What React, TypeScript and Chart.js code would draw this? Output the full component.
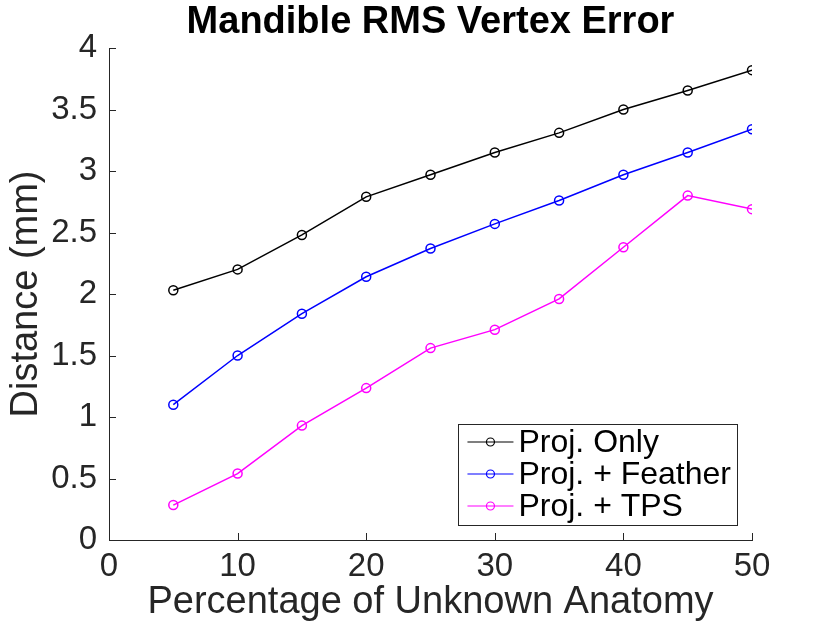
import React, { useRef, useEffect } from 'react';
import { Chart, registerables } from 'chart.js';

Chart.register(...registerables);

// values
const unknownPct = [5, 10, 15, 20, 25, 30, 35, 40, 45, 50];
const projOnly = [2.03, 2.2, 2.48, 2.79, 2.97, 3.15, 3.31, 3.5, 3.655, 3.82];
const projFeather = [1.1, 1.5, 1.84, 2.14, 2.37, 2.57, 2.76, 2.97, 3.15, 3.34];
const projTps = [0.284, 0.54, 0.93, 1.235, 1.56, 1.71, 1.96, 2.38, 2.8, 2.69];
const seriesNames = ['Proj. Only', 'Proj. + Feather', 'Proj. + TPS'];
const seriesColors = ['#000000', '#0000ff', '#ff00ff'];

const FONT = '"Liberation Sans", Arial, Helvetica, sans-serif';
const AXIS = '#262626';

const toPoints = (ys: number[]) => unknownPct.map((x, i) => ({ x, y: ys[i] }));

// MATLAB-like inward tick marks
const inwardTicks = {
  id: 'inwardTicks',
  afterDraw(chart: any) {
    const { ctx, chartArea, scales } = chart;
    const len = 7;
    ctx.save();
    ctx.strokeStyle = AXIS;
    ctx.lineWidth = 1;
    ctx.beginPath();
    scales.x.ticks.forEach((t: any) => {
      const px = Math.round(scales.x.getPixelForValue(t.value)) + 0.5;
      ctx.moveTo(px, chartArea.bottom);
      ctx.lineTo(px, chartArea.bottom - len);
    });
    scales.y.ticks.forEach((t: any) => {
      const py = Math.round(scales.y.getPixelForValue(t.value)) + 0.5;
      ctx.moveTo(chartArea.left, py);
      ctx.lineTo(chartArea.left + len, py);
    });
    ctx.stroke();
    ctx.restore();
  },
};

// boxed legend inside the lower-right corner of the axes
const boxLegend = {
  id: 'boxLegend',
  afterDraw(chart: any) {
    const { ctx, chartArea } = chart;
    const sets = chart.data.datasets;
    ctx.save();
    ctx.font = `32px ${FONT}`;
    const textW = Math.max(...sets.map((d: any) => ctx.measureText(d.label).width));
    const rowH = 32;
    const lineLen = 46;
    const padL = 9;
    const gap = 5;
    const w = padL + lineLen + gap + textW + 6;
    const h = rowH * sets.length + 5;
    const right = chartArea.right - 15;
    const bottom = chartArea.bottom - 15;
    const left = right - w;
    const top = bottom - h;
    ctx.fillStyle = '#ffffff';
    ctx.fillRect(left, top, w, h);
    ctx.strokeStyle = AXIS;
    ctx.lineWidth = 1;
    ctx.strokeRect(Math.round(left) + 0.5, Math.round(top) + 0.5, Math.round(w), Math.round(h));
    sets.forEach((d: any, i: number) => {
      const cy = top + 18 + i * rowH;
      const x0 = left + padL;
      ctx.strokeStyle = d.borderColor;
      ctx.lineWidth = 1.2;
      ctx.beginPath();
      ctx.moveTo(x0, cy);
      ctx.lineTo(x0 + lineLen, cy);
      ctx.stroke();
      ctx.beginPath();
      ctx.arc(x0 + lineLen / 2, cy, 4, 0, Math.PI * 2);
      ctx.stroke();
      ctx.fillStyle = '#000000';
      ctx.textBaseline = 'middle';
      ctx.textAlign = 'left';
      ctx.fillText(d.label, x0 + lineLen + gap, cy + 1);
    });
    ctx.restore();
  },
};

const App: React.FC = () => {
  const canvasRef = useRef<HTMLCanvasElement>(null);
  const chartRef = useRef<Chart | null>(null);

  useEffect(() => {
    document.body.style.margin = '0';
    if (!canvasRef.current) return;
    const ctx = canvasRef.current.getContext('2d');
    if (!ctx) return;

    const series = [projOnly, projFeather, projTps];

    chartRef.current = new Chart(ctx, {
      type: 'line',
      data: {
        datasets: series.map((ys, i) => ({
          label: seriesNames[i],
          data: toPoints(ys),
          borderColor: seriesColors[i],
          backgroundColor: 'rgba(0,0,0,0)',
          borderWidth: 1.5,
          pointRadius: 4.5,
          pointBorderWidth: 1.5,
          pointStyle: 'circle',
          tension: 0,
        })),
      },
      options: {
        responsive: false,
        animation: false,
        devicePixelRatio: 1,
        layout: { padding: { left: 0, right: 78, top: 0, bottom: 0 } },
        plugins: {
          legend: { display: false },
          tooltip: { enabled: false },
          title: {
            display: true,
            text: 'Mandible RMS Vertex Error',
            color: '#000000',
            fullSize: false,
            font: { family: FONT, size: 38, weight: 'bold', lineHeight: 1.2 },
            padding: { top: 0, bottom: 2.4 },
          },
        },
        scales: {
          x: {
            type: 'linear',
            min: 0,
            max: 50,
            grid: { display: false, drawTicks: false },
            border: { display: true, color: AXIS, width: 1 },
            ticks: {
              stepSize: 10,
              color: AXIS,
              padding: 7,
              maxRotation: 0,
              font: { family: FONT, size: 33 },
              callback: (v: any) => `${v}`,
            },
            title: {
              display: true,
              text: 'Percentage of Unknown Anatomy',
              color: AXIS,
              font: { family: FONT, size: 38, lineHeight: 1.2 },
              padding: { top: 0, bottom: -2 },
            },
            afterFit: (scale: any) => {
              scale.height = 83;
            },
          },
          y: {
            type: 'linear',
            min: 0,
            max: 4,
            grid: { display: false, drawTicks: false },
            border: { display: true, color: AXIS, width: 1 },
            ticks: {
              stepSize: 0.5,
              color: AXIS,
              padding: 12,
              font: { family: FONT, size: 33 },
              callback: (v: any) => `${v}`,
            },
            title: {
              display: true,
              text: 'Distance (mm)',
              color: AXIS,
              font: { family: FONT, size: 38, lineHeight: 1.2 },
              padding: { top: 4, bottom: 0 },
            },
            afterFit: (scale: any) => {
              scale.width = 109;
            },
          },
        },
      },
      plugins: [inwardTicks, boxLegend],
    });

    return () => {
      if (chartRef.current) {
        chartRef.current.destroy();
        chartRef.current = null;
      }
    };
  }, []);

  return (
    <div style={{ width: 830, height: 623, background: '#ffffff' }}>
      <canvas ref={canvasRef} width={830} height={623} />
    </div>
  );
};

export default App;
